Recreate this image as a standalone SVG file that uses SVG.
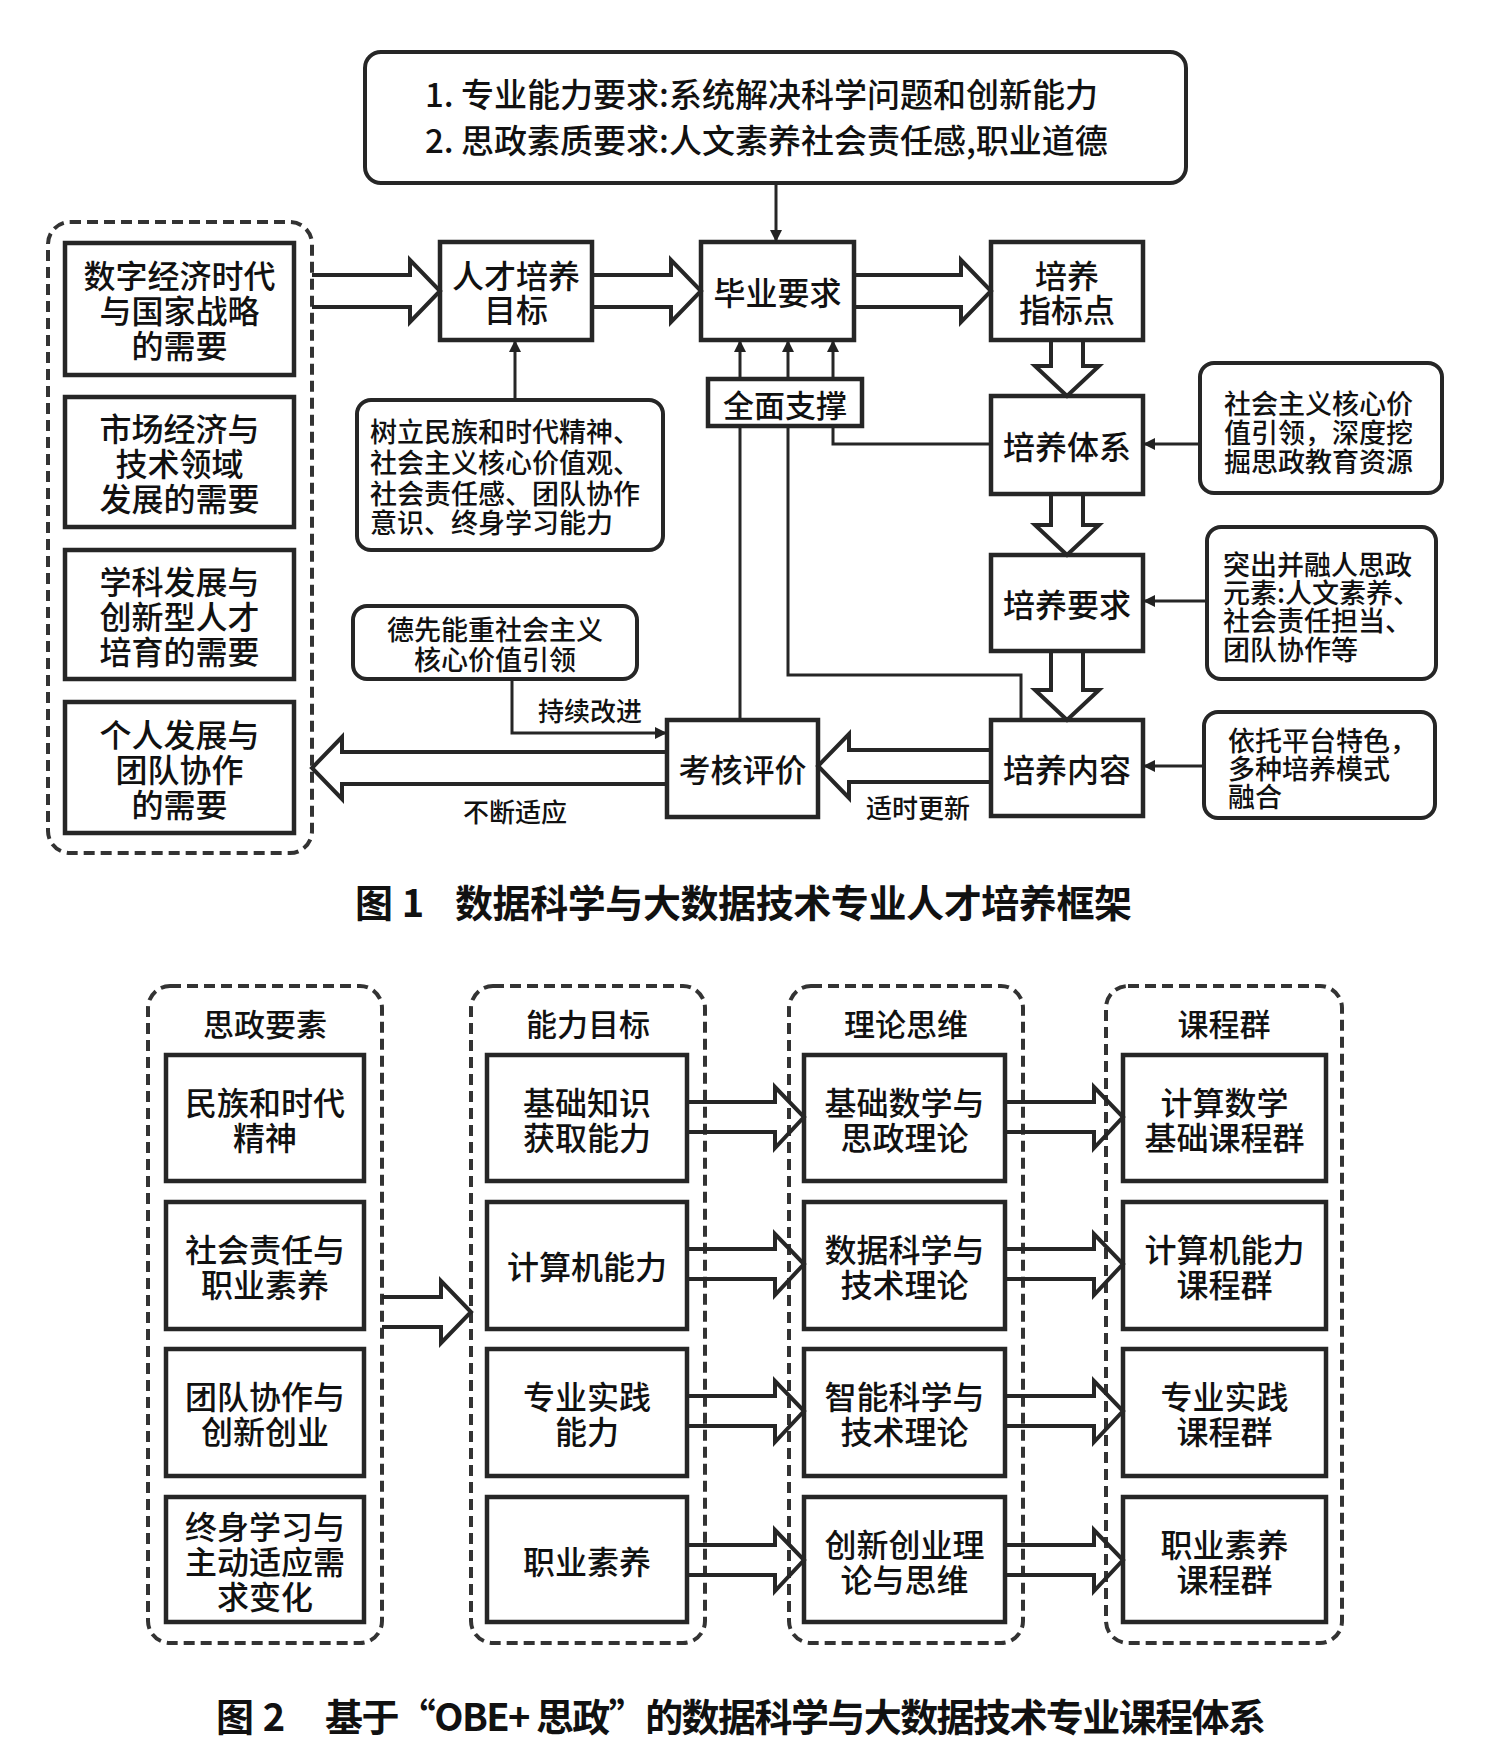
<svg xmlns="http://www.w3.org/2000/svg" width="1508" height="1764" viewBox="0 0 1508 1764">
<defs>
<marker id="ah" viewBox="0 0 12 12" refX="11" refY="6" markerWidth="12" markerHeight="12" markerUnits="userSpaceOnUse" orient="auto">
<path d="M0,0 L12,6 L0,12 Z" fill="#222"/>
</marker>
<style>
.box{fill:#fff;stroke:#262626;stroke-width:4.5}
.rbox{fill:#fff;stroke:#262626;stroke-width:4}
.grp{fill:none;stroke:#333;stroke-width:4;stroke-dasharray:11 6}
.harrow{fill:none;stroke:#262626;stroke-width:4;stroke-linejoin:miter}
.ln{fill:none;stroke:#262626;stroke-width:3}
.t{font-family:"Noto Sans CJK SC","Liberation Sans",sans-serif;font-weight:500;fill:#111;dominant-baseline:central;text-anchor:middle}
.t32{font-size:32px}
.t31{font-size:31px}
.t27{font-size:27px}
.t26{font-size:26px}
.tl{text-anchor:start}
.cap{font-family:"Noto Sans CJK SC","Liberation Sans",sans-serif;font-weight:700;font-size:38px;fill:#111;dominant-baseline:central}
</style>
</defs>
<rect width="1508" height="1764" fill="#fff"/>

<!-- Figure 1 -->
<g id="req">
<rect class="rbox" x="365" y="52" width="821" height="131" rx="16"/>
<text class="t tl" font-size="33"><tspan x="425" y="93">1. 专业能力要求:系统解决科学问题和创新能力</tspan><tspan x="425" y="139">2. 思政素质要求:人文素养社会责任感,职业道德</tspan></text>
</g>

<g id="needs">
<rect class="grp" x="48" y="222" width="264" height="631" rx="22"/>
<rect class="box" x="65" y="243" width="229" height="132"/>
<text class="t t32"><tspan x="179.5" y="274">数字经济时代</tspan><tspan x="179.5" y="309">与国家战略</tspan><tspan x="179.5" y="344">的需要</tspan></text>
<rect class="box" x="65" y="397" width="229" height="130"/>
<text class="t t32"><tspan x="179.5" y="427">市场经济与</tspan><tspan x="179.5" y="462">技术领域</tspan><tspan x="179.5" y="497">发展的需要</tspan></text>
<rect class="box" x="65" y="550" width="229" height="129"/>
<text class="t t32"><tspan x="179.5" y="580">学科发展与</tspan><tspan x="179.5" y="615">创新型人才</tspan><tspan x="179.5" y="650">培育的需要</tspan></text>
<rect class="box" x="65" y="702" width="229" height="131"/>
<text class="t t32"><tspan x="179.5" y="733">个人发展与</tspan><tspan x="179.5" y="768">团队协作</tspan><tspan x="179.5" y="803">的需要</tspan></text>
</g>

<g id="goal">
<rect class="box" x="440" y="242" width="152" height="98"/>
<text class="t t32"><tspan x="516" y="274">人才培养</tspan><tspan x="516" y="308">目标</tspan></text>
</g>

<g id="grad">
<rect class="box" x="701" y="242" width="153" height="98"/>
<text class="t t32" x="777.5" y="291">毕业要求</text>
</g>

<g id="indicator">
<rect class="box" x="991" y="242" width="152" height="98"/>
<text class="t t32"><tspan x="1067" y="274">培养</tspan><tspan x="1067" y="308">指标点</tspan></text>
</g>

<g id="spirit">
<rect class="rbox" x="357" y="400" width="306" height="150" rx="14"/>
<text class="t t27 tl"><tspan x="370" y="430">树立民族和时代精神、</tspan><tspan x="370" y="461">社会主义核心价值观、</tspan><tspan x="370" y="492">社会责任感、团队协作</tspan><tspan x="370" y="521">意识、终身学习能力</tspan></text>
</g>

<g id="support">
<rect class="box" x="708" y="379" width="154" height="47"/>
<text class="t t31" x="785" y="403">全面支撑</text>
</g>

<g id="system">
<rect class="box" x="991" y="396" width="152" height="98"/>
<text class="t t32" x="1067" y="445">培养体系</text>
</g>

<g id="core">
<rect class="rbox" x="1200" y="363" width="242" height="130" rx="14"/>
<text class="t t27 tl"><tspan x="1224" y="402">社会主义核心价</tspan><tspan x="1224" y="431">值引领，深度挖</tspan><tspan x="1224" y="460">掘思政教育资源</tspan></text>
</g>

<g id="reqs">
<rect class="box" x="991" y="555" width="152" height="96"/>
<text class="t t32" x="1067" y="603">培养要求</text>
</g>

<g id="elements">
<rect class="rbox" x="1207" y="527" width="229" height="152" rx="14"/>
<text class="t t27 tl"><tspan x="1223" y="563">突出并融人思政</tspan><tspan x="1223" y="591">元素:人文素养、</tspan><tspan x="1223" y="619">社会责任担当、</tspan><tspan x="1223" y="648">团队协作等</tspan></text>
</g>

<g id="content">
<rect class="box" x="991" y="720" width="152" height="96"/>
<text class="t t32" x="1067" y="768">培养内容</text>
</g>

<g id="platform">
<rect class="rbox" x="1204" y="712" width="231" height="106" rx="14"/>
<text class="t t27 tl"><tspan x="1228" y="739">依托平台特色，</tspan><tspan x="1228" y="767">多种培养模式</tspan><tspan x="1228" y="795">融合</tspan></text>
</g>

<g id="assess">
<rect class="box" x="667" y="720" width="151" height="97"/>
<text class="t t32" x="742.5" y="768">考核评价</text>
</g>

<g id="virtue">
<rect class="rbox" x="353" y="606" width="284" height="73" rx="14"/>
<text class="t t27"><tspan x="495" y="628">德先能重社会主义</tspan><tspan x="495" y="658">核心价值引领</tspan></text>
</g>

<g id="connectors1">
<line class="ln" x1="776" y1="183" x2="776" y2="241" marker-end="url(#ah)"/>
<path class="harrow" d="M312,275 H410 V260 L440,291 L410,322 V307 H312"/>
<path class="harrow" d="M592,275 H671 V260 L701,291 L671,322 V307 H592"/>
<path class="harrow" d="M854,275 H961 V260 L991,291 L961,322 V307 H854"/>
<line class="ln" x1="515" y1="400" x2="515" y2="341" marker-end="url(#ah)"/>
<line class="ln" x1="740" y1="379" x2="740" y2="341" marker-end="url(#ah)"/>
<line class="ln" x1="788" y1="379" x2="788" y2="341" marker-end="url(#ah)"/>
<line class="ln" x1="833" y1="379" x2="833" y2="341" marker-end="url(#ah)"/>
<path class="harrow" d="M1051,340 V366 H1035 L1067,396 L1099,366 H1083 V340"/>
<path class="harrow" d="M1051,494 V525 H1035 L1067,555 L1099,525 H1083 V494"/>
<path class="harrow" d="M1051,651 V690 H1035 L1067,720 L1099,690 H1083 V651"/>
<line class="ln" x1="1200" y1="444" x2="1144" y2="444" marker-end="url(#ah)"/>
<line class="ln" x1="1207" y1="601" x2="1144" y2="601" marker-end="url(#ah)"/>
<line class="ln" x1="1204" y1="766" x2="1144" y2="766" marker-end="url(#ah)"/>
<polyline class="ln" points="991,444 833,444 833,426"/>
<line class="ln" x1="740" y1="426" x2="740" y2="720"/>
<polyline class="ln" points="788,426 788,675 1021,675 1021,720"/>
<path class="harrow" d="M991,750 H849 V734 L818,766 L849,798 V782 H991"/>
<path class="harrow" d="M667,752 H342 V737 L312,768 L342,799 V784 H667"/>
<polyline class="ln" points="512,679 512,733 666,733" marker-end="url(#ah)"/>
<text class="t t26" x="515" y="810">不断适应</text>
<text class="t t26" x="918" y="806">适时更新</text>
<text class="t t26" x="590" y="709">持续改进</text>
</g>

<g id="caption1">
<text class="cap" x="355" y="900">图 1</text>
<text class="cap" x="455" y="900" textLength="677" lengthAdjust="spacing">数据科学与大数据技术专业人才培养框架</text>
</g>

<!-- Figure 2 -->
<g id="col-szys">
<rect class="grp" x="148" y="986" width="234" height="657" rx="22"/>
<text class="t t31" x="265" y="1022">思政要素</text>
<rect class="box" x="166" y="1055" width="198" height="126"/>
<text class="t t32"><tspan x="265" y="1101">民族和时代</tspan><tspan x="265" y="1136">精神</tspan></text>
<rect class="box" x="166" y="1202" width="198" height="127"/>
<text class="t t32"><tspan x="265" y="1248">社会责任与</tspan><tspan x="265" y="1283">职业素养</tspan></text>
<rect class="box" x="166" y="1349" width="198" height="127"/>
<text class="t t32"><tspan x="265" y="1395">团队协作与</tspan><tspan x="265" y="1430">创新创业</tspan></text>
<rect class="box" x="166" y="1497" width="198" height="125"/>
<text class="t t32"><tspan x="265" y="1525">终身学习与</tspan><tspan x="265" y="1560">主动适应需</tspan><tspan x="265" y="1595">求变化</tspan></text>
</g>

<g id="col-nlmb">
<rect class="grp" x="471" y="986" width="234" height="657" rx="22"/>
<text class="t t31" x="588" y="1022">能力目标</text>
<rect class="box" x="487" y="1055" width="200" height="126"/>
<text class="t t32"><tspan x="587" y="1101">基础知识</tspan><tspan x="587" y="1136">获取能力</tspan></text>
<rect class="box" x="487" y="1202" width="200" height="127"/>
<text class="t t32" x="587" y="1265">计算机能力</text>
<rect class="box" x="487" y="1349" width="200" height="127"/>
<text class="t t32"><tspan x="587" y="1395">专业实践</tspan><tspan x="587" y="1430">能力</tspan></text>
<rect class="box" x="487" y="1497" width="200" height="125"/>
<text class="t t32" x="587" y="1560">职业素养</text>
</g>

<g id="col-llsw">
<rect class="grp" x="789" y="986" width="234" height="657" rx="22"/>
<text class="t t31" x="906" y="1022">理论思维</text>
<rect class="box" x="804" y="1055" width="201" height="126"/>
<text class="t t32"><tspan x="904.5" y="1101">基础数学与</tspan><tspan x="904.5" y="1136">思政理论</tspan></text>
<rect class="box" x="804" y="1202" width="201" height="127"/>
<text class="t t32"><tspan x="904.5" y="1248">数据科学与</tspan><tspan x="904.5" y="1283">技术理论</tspan></text>
<rect class="box" x="804" y="1349" width="201" height="127"/>
<text class="t t32"><tspan x="904.5" y="1395">智能科学与</tspan><tspan x="904.5" y="1430">技术理论</tspan></text>
<rect class="box" x="804" y="1497" width="201" height="125"/>
<text class="t t32"><tspan x="904.5" y="1543">创新创业理</tspan><tspan x="904.5" y="1578">论与思维</tspan></text>
</g>

<g id="col-kcq">
<rect class="grp" x="1106" y="986" width="236" height="657" rx="22"/>
<text class="t t31" x="1224" y="1022">课程群</text>
<rect class="box" x="1123" y="1055" width="203" height="126"/>
<text class="t t32"><tspan x="1224.5" y="1101">计算数学</tspan><tspan x="1224.5" y="1136">基础课程群</tspan></text>
<rect class="box" x="1123" y="1202" width="203" height="127"/>
<text class="t t32"><tspan x="1224.5" y="1248">计算机能力</tspan><tspan x="1224.5" y="1283">课程群</tspan></text>
<rect class="box" x="1123" y="1349" width="203" height="127"/>
<text class="t t32"><tspan x="1224.5" y="1395">专业实践</tspan><tspan x="1224.5" y="1430">课程群</tspan></text>
<rect class="box" x="1123" y="1497" width="203" height="125"/>
<text class="t t32"><tspan x="1224.5" y="1543">职业素养</tspan><tspan x="1224.5" y="1578">课程群</tspan></text>
</g>

<g id="connectors2">
<path class="harrow" d="M382,1297 H441 V1281 L471,1312 L441,1343 V1327 H382"/>
<path class="harrow" d="M687,1102 H775 V1087 L804,1117 L775,1148 V1132 H687"/>
<path class="harrow" d="M687,1249 H775 V1234 L804,1264 L775,1295 V1279 H687"/>
<path class="harrow" d="M687,1396 H775 V1381 L804,1411 L775,1442 V1426 H687"/>
<path class="harrow" d="M687,1545 H775 V1530 L804,1560 L775,1591 V1575 H687"/>
<path class="harrow" d="M1005,1102 H1094 V1087 L1123,1117 L1094,1148 V1132 H1005"/>
<path class="harrow" d="M1005,1249 H1094 V1234 L1123,1264 L1094,1295 V1279 H1005"/>
<path class="harrow" d="M1005,1396 H1094 V1381 L1123,1411 L1094,1442 V1426 H1005"/>
<path class="harrow" d="M1005,1545 H1094 V1530 L1123,1560 L1094,1591 V1575 H1005"/>
</g>

<g id="caption2">
<text class="cap" x="216" y="1714">图 2</text>
<text class="cap" x="325" y="1714" textLength="941" lengthAdjust="spacing">基于“OBE+ 思政”的数据科学与大数据技术专业课程体系</text>
</g>
</svg>
